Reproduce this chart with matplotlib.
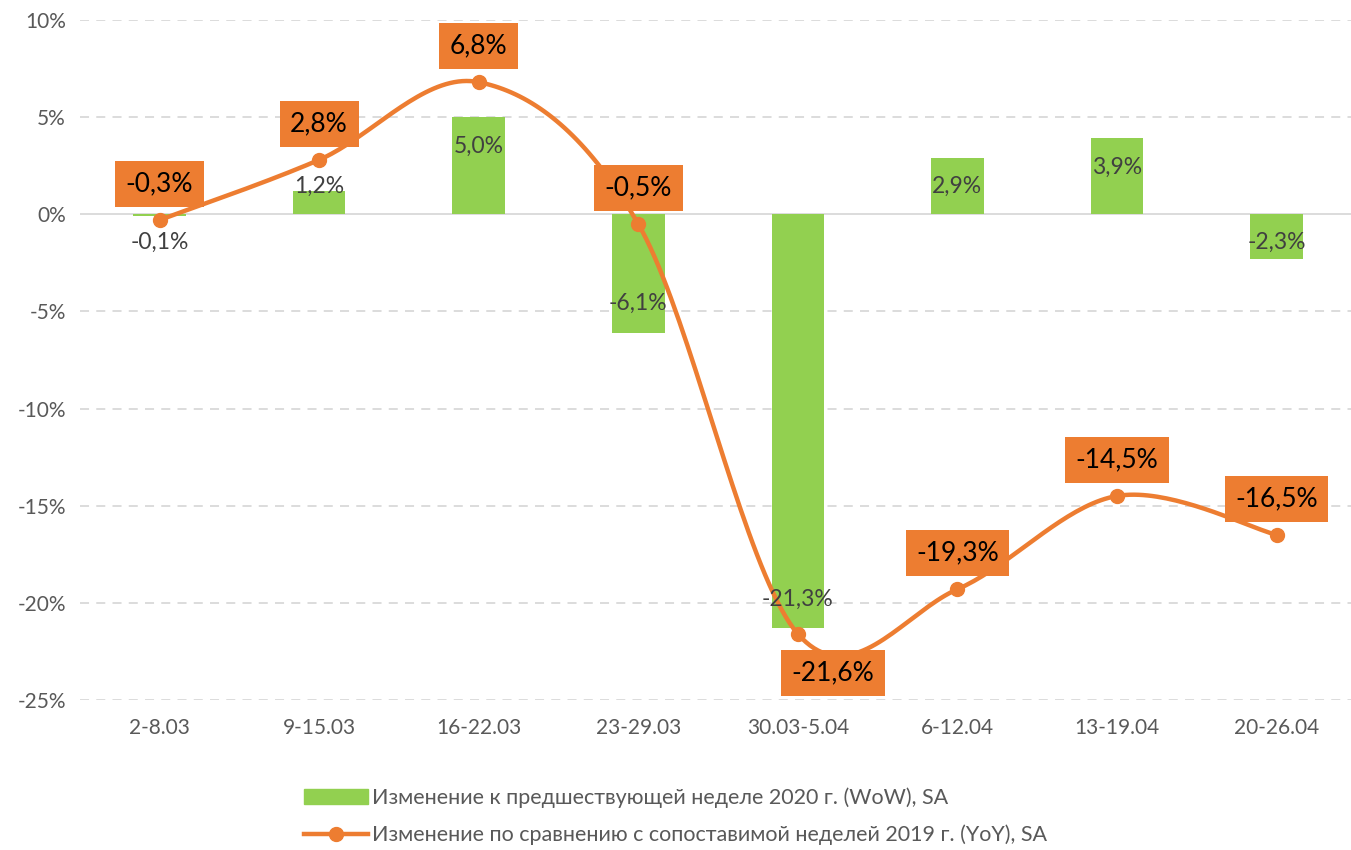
import numpy as np
import matplotlib
matplotlib.use("Agg")
import matplotlib.pyplot as plt
from matplotlib.lines import Line2D
from matplotlib.patches import Patch

weeks = ["2-8.03", "9-15.03", "16-22.03", "23-29.03", "30.03-5.04", "6-12.04", "13-19.04", "20-26.04"]
wow = [-0.1, 1.2, 5.0, -6.1, -21.3, 2.9, 3.9, -2.3]
yoy = [-0.3, 2.8, 6.8, -0.5, -21.6, -19.3, -14.5, -16.5]
wow_name = "Изменение к предшествующей неделе 2020 г. (WoW), SA"
yoy_name = "Изменение по сравнению с сопоставимой неделей 2019 г. (YoY), SA"

GREEN = "#92D050"
ORANGE = "#ED7D31"
GRAY = "#595959"

plt.rcParams["font.family"] = ["Lato", "DejaVu Sans"]


def fmt(v):
    return f"{v:.1f}%".replace(".", ",")


def smooth(xs, ys, n=40):
    # catmull-rom style bezier, like excel's smoothed line
    pts = np.column_stack([xs, ys]).astype(float)
    out = []
    for i in range(len(pts) - 1):
        p0 = pts[max(i - 1, 0)]
        p1 = pts[i]
        p2 = pts[i + 1]
        p3 = pts[min(i + 2, len(pts) - 1)]
        c1 = p1 + (p2 - p0) / 6
        c2 = p2 - (p3 - p1) / 6
        t = np.linspace(0, 1, n)[:, None]
        seg = (1 - t) ** 3 * p1 + 3 * (1 - t) ** 2 * t * c1 + 3 * (1 - t) * t ** 2 * c2 + t ** 3 * p2
        out.append(seg if i == 0 else seg[1:])
    out = np.vstack(out)
    return out[:, 0], out[:, 1]


fig = plt.figure(figsize=(13.51, 8.5), dpi=100)
ax = fig.add_axes([0.059, 0.1765, 0.945, 0.8])

x = np.arange(len(weeks))
ax.bar(x, wow, width=0.33, color=GREEN, zorder=2)

sx, sy = smooth(x, yoy)
ax.plot(sx, sy, color=ORANGE, lw=3.2, zorder=3, solid_capstyle="round")
ax.plot(x, yoy, "o", color=ORANGE, ms=10, zorder=4)

# bar labels
for xi, v in zip(x, wow):
    s = 1 if v >= 0 else -1
    ly = s * max(abs(v) - 1.5, 1.45)
    ax.text(xi, ly, fmt(v), ha="center", va="center", fontsize=16.5, color="#404040", zorder=5)

# line labels (the lowest one sits below, nudged right like in the original)
for i, (xi, v) in enumerate(zip(x, yoy)):
    below = v == min(yoy)
    ly = v - 2.0 if below else v + 1.85
    lx = xi + 0.22 if below else xi
    ax.text(lx, ly, fmt(v), ha="center", va="center", fontsize=19, color="black", zorder=6,
            bbox=dict(boxstyle="square,pad=0.4", fc=ORANGE, ec="none"))

ax.set_xlim(-0.5, len(weeks) - 0.5)
ax.set_ylim(-25, 10)
ax.set_yticks(np.arange(-25, 11, 5))
ax.set_yticklabels([f"{t}%" for t in range(-25, 11, 5)])
ax.set_xticks(x)
ax.set_xticklabels(weeks)
ax.tick_params(length=0, labelsize=15, labelcolor=GRAY, pad=10)
ax.tick_params(axis="x", pad=13)
for t in ax.get_yticks():
    if t == 0:
        ax.axhline(0, color="#D9D9D9", lw=1.3, zorder=1)
    else:
        ax.axhline(t, color="#D9D9D9", lw=1.3, ls=(0, (5, 4)), zorder=1)
for sp in ax.spines.values():
    sp.set_visible(False)

handles = [Patch(color=GREEN, label=wow_name),
           Line2D([0], [0], color=ORANGE, lw=3.2, marker="o", ms=10, label=yoy_name)]
leg = fig.legend(handles=handles, loc="lower center", bbox_to_anchor=(0.5, -0.012), ncol=1,
                 frameon=False, fontsize=15.5, labelcolor=GRAY, handlelength=3.0,
                 handletextpad=0.2, labelspacing=0.75, borderaxespad=0.3)

fig.savefig("out.png", dpi=100)
